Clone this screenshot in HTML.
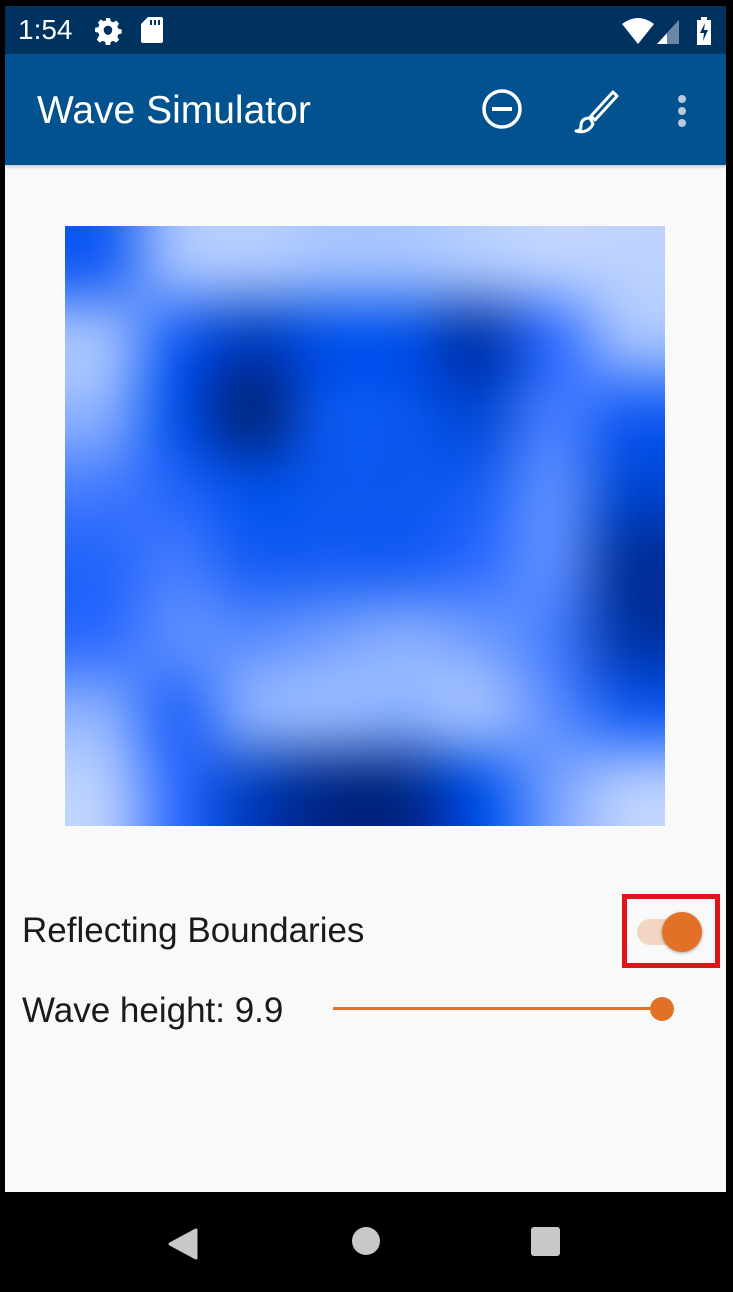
<!DOCTYPE html>
<html><head><meta charset="utf-8">
<style>
html,body{margin:0;padding:0;width:733px;height:1292px;background:#000;overflow:hidden;font-family:"Liberation Sans",sans-serif;}
#screen{position:absolute;left:5px;top:6px;width:721px;height:1281px;background:#f9f9f9;}
#status{position:absolute;left:0;top:0;width:721px;height:48px;background:#00325f;color:#fff;}
#appbar{position:absolute;left:0;top:48px;width:721px;height:111px;background:#02528f;color:#fff;box-shadow:0 2px 3px rgba(0,0,0,0.2);}
#nav{position:absolute;left:0;top:1186px;width:721px;height:95px;background:#000;}
</style></head><body>
<div id="screen">
  <div id="status">
    <div style="position:absolute;left:13px;top:8px;font-size:28px;">1:54</div>
    <svg style="position:absolute;left:89px;top:11px" width="28" height="28" viewBox="0 0 24 24"><path fill="#fff" d="M12 8a4 4 0 1 0 0 8a4 4 0 1 0 0-8zM10 1h4l.6 3 2.4 1 2.6-1.7 2.8 2.8L20.7 8.7l1 2.3 3 .5v4l-3 .6-1 2.4 1.7 2.6-2.8 2.8-2.6-1.7-2.4 1-.6 3h-4l-.6-3-2.4-1-2.6 1.7-2.8-2.8L4 17l-1-2.4-3-.6v-4l3-.5 1-2.3L2.6 5.1 5.4 2.3 8 4l2.4-1z" transform="scale(0.92) translate(1,0)"/><circle cx="12" cy="12" r="3.3" fill="#00325f"/></svg>
    <svg style="position:absolute;left:136px;top:11px" width="22" height="26" viewBox="0 0 22 26"><path fill="#fff" d="M7 0h13a2 2 0 0 1 2 2v22a2 2 0 0 1-2 2H2a2 2 0 0 1-2-2V7z"/><rect x="9" y="3" width="2" height="5" fill="#00325f"/><rect x="13" y="3" width="2" height="5" fill="#00325f"/><rect x="17" y="3" width="2" height="5" fill="#00325f"/></svg>
    <svg style="position:absolute;left:617px;top:12px" width="32" height="26" viewBox="0 0 32 26"><path fill="#fff" d="M0 6Q16-6 32 6L16 26z"/></svg>
    <svg style="position:absolute;left:652px;top:14px" width="22" height="24" viewBox="0 0 22 24"><path fill="#fff" d="M0 24L22 0V24z"/><path fill="#6c86a6" d="M10 13L22 0V24H10z"/></svg>
    <svg style="position:absolute;left:692px;top:11px" width="14" height="28" viewBox="0 0 14 28"><rect x="4" y="0" width="6" height="3" fill="#fff"/><rect x="0" y="3" width="14" height="25" fill="#fff"/><path fill="#00325f" d="M8 6L3 16h4l-1 8 5-11H7z"/></svg>
  </div>
  <div id="appbar">
    <div style="position:absolute;left:32px;top:35px;font-size:39px;font-weight:500;">Wave Simulator</div>
    <svg style="position:absolute;left:476px;top:34px" width="42" height="42" viewBox="0 0 42 42"><circle cx="21" cy="21" r="18" fill="none" stroke="#fff" stroke-width="3.5"/><rect x="11" y="19" width="20" height="4" fill="#fff"/></svg>
    <svg style="position:absolute;left:568px;top:34px" width="48" height="48" viewBox="0 0 48 48"><path d="M40 4L44 8 22 32 18 28z" fill="none" stroke="#fff" stroke-width="3" stroke-linejoin="round"/><path d="M17 30Q8 30 8 38Q8 43 3 43Q15 46 20 36z" fill="none" stroke="#fff" stroke-width="3" stroke-linejoin="round"/></svg>
    <svg style="position:absolute;left:671px;top:40px" width="12" height="36" viewBox="0 0 12 36"><circle cx="6" cy="5" r="4" fill="#b8c9dd"/><circle cx="6" cy="17" r="4" fill="#b8c9dd"/><circle cx="6" cy="29" r="4" fill="#b8c9dd"/></svg>
  </div>
  <canvas id="wave" width="600" height="600" style="position:absolute;left:60px;top:220px;"></canvas>
  <div style="position:absolute;left:17px;top:905px;font-size:35px;color:#1a1a1a;">Reflecting Boundaries</div>
  <div style="position:absolute;left:617px;top:888px;width:98px;height:74px;box-sizing:border-box;border:5px solid #e2141b;"></div>
  <div style="position:absolute;left:632px;top:913px;width:62px;height:26px;">
    <div style="position:absolute;left:0;top:0;width:62px;height:26px;border-radius:13px;background:#f2d6c2;"></div>
    <div style="position:absolute;left:25px;top:-7px;width:40px;height:40px;border-radius:20px;background:#e27128;box-shadow:0 1px 3px rgba(0,0,0,0.35);"></div>
  </div>
  <div style="position:absolute;left:17px;top:985px;font-size:35px;color:#1a1a1a;">Wave height: 9.9</div>
  <div style="position:absolute;left:328px;top:990px;width:340px;height:26px;">
    <div style="position:absolute;left:0;top:11px;width:328px;height:3px;background:#e27128;"></div>
    <div style="position:absolute;left:317px;top:1px;width:24px;height:24px;border-radius:12px;background:#e27128;"></div>
  </div>
  <div id="nav">
    <svg style="position:absolute;left:163px;top:36px" width="30" height="32" viewBox="0 0 30 32"><path d="M28 2V30L2 16z" fill="#c8c8c8" stroke="#c8c8c8" stroke-width="3" stroke-linejoin="round"/></svg>
    <div style="position:absolute;left:347px;top:35px;width:28px;height:28px;border-radius:14px;background:#c8c8c8;"></div>
    <div style="position:absolute;left:526px;top:35px;width:29px;height:29px;border-radius:3px;background:#c8c8c8;"></div>
  </div>
</div>
<script>
// wave intensities per 8x8 grid row (0 = light crest, 1 = deep trough)
const row0=[0.6,0.2,0.15,0.2,0.2,0.15,0.1,0.1];
const row1=[0.2,0.6,0.8,0.7,0.7,0.85,0.5,0.2];
const row2=[0.3,0.7,0.95,0.65,0.65,0.75,0.45,0.6];
const row3=[0.45,0.55,0.7,0.65,0.65,0.6,0.4,0.75];
const row4=[0.55,0.45,0.6,0.6,0.6,0.5,0.4,0.88];
const row5=[0.5,0.4,0.4,0.35,0.3,0.35,0.45,0.85];
const row6=[0.3,0.55,0.3,0.25,0.3,0.2,0.4,0.6];
const row7=[0.12,0.5,0.8,0.92,0.92,0.7,0.35,0.12];
const grid=[row0,row1,row2,row3,row4,row5,row6,row7];
const stops=[[0,[214,227,255]],[0.3,[138,176,255]],[0.5,[46,107,255]],[0.7,[0,80,232]],[0.85,[0,53,168]],[1,[0,26,96]]];
function cmap(v){for(let i=1;i<stops.length;i++){if(v<=stops[i][0]){const a=stops[i-1],b=stops[i];const t=(v-a[0])/(b[0]-a[0]);return a[1].map((c,k)=>Math.round(c+(b[1][k]-c)*t));}}return stops[stops.length-1][1];}
const n=grid.length;
const small=document.createElement('canvas');small.width=n;small.height=n;
const sc=small.getContext('2d');const img=sc.createImageData(n,n);
for(let r=0;r<n;r++)for(let c=0;c<n;c++){const col=cmap(grid[r][c]);const i=(r*n+c)*4;img.data[i]=col[0];img.data[i+1]=col[1];img.data[i+2]=col[2];img.data[i+3]=255;}
sc.putImageData(img,0,0);
const cv=document.getElementById('wave');const ctx=cv.getContext('2d');
ctx.imageSmoothingEnabled=true;ctx.imageSmoothingQuality='high';
ctx.drawImage(small,0,0,n,n,0,0,cv.width,cv.height);
</script>
</body></html>
